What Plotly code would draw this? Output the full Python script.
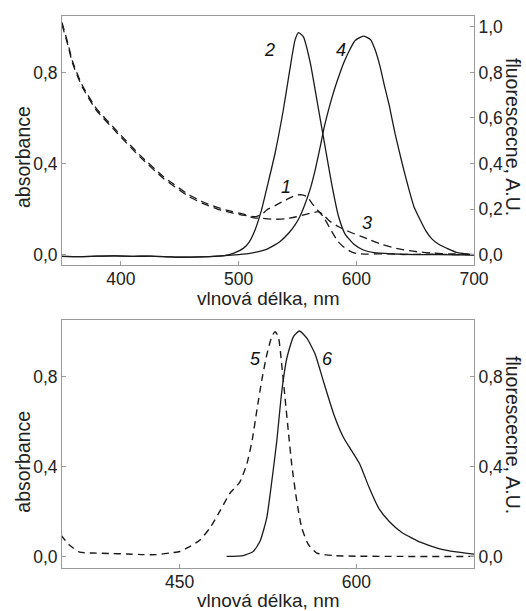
import plotly.graph_objects as go

# ---------------- data: top panel ----------------
# curve 1 (absorbance, dashed)
wl_1 = [350, 355, 359, 367, 379, 397, 416, 436, 458, 469, 482, 495, 505, 515, 520, 524, 531, 538,
        544, 550, 554, 558, 563, 568, 572, 578, 584, 589, 595, 600, 610, 625, 640, 660, 680, 700]
abs_1 = [1.01, 0.92, 0.84, 0.738, 0.635, 0.533, 0.43, 0.335, 0.254, 0.226, 0.200, 0.182, 0.172, 0.167,
         0.178, 0.196, 0.215, 0.234, 0.250, 0.262, 0.262, 0.255, 0.220, 0.190, 0.166, 0.112, 0.060,
         0.034, 0.014, 0.005, 0.002, 0.003, 0.000, 0.002, 0.000, 0.000]

# curve 3 (absorbance, dashed)
wl_3 = [350, 355, 359, 367, 379, 397, 416, 436, 458, 469, 482, 495, 505, 512, 520, 530, 540, 549,
        558, 563, 568, 572, 577, 585, 594, 603, 612, 622, 634, 645, 652, 665, 680, 700]
abs_3 = [1.02, 0.928, 0.848, 0.746, 0.643, 0.541, 0.438, 0.343, 0.262, 0.233, 0.207, 0.188, 0.176,
         0.162, 0.159, 0.155, 0.157, 0.166, 0.178, 0.184, 0.188, 0.175, 0.148, 0.122, 0.100, 0.082,
         0.064, 0.044, 0.027, 0.017, 0.012, 0.006, 0.003, 0.001]

# curve 2 (fluorescence, solid)
wl_2 = [350, 365, 380, 395, 410, 425, 440, 450, 460, 475, 488, 496, 504, 509, 514, 519.5, 525, 531,
        538, 543.5, 548, 551, 555, 561, 566.5, 572, 579, 585, 590.5, 598, 606, 615, 630, 650, 670, 700]
fl_2 = [-0.008, -0.009, -0.007, -0.006, -0.008, -0.007, -0.010, -0.012, -0.011, -0.009, -0.005,
        0.006, 0.027, 0.055, 0.108, 0.196, 0.313, 0.445, 0.635, 0.811, 0.943, 0.975, 0.957, 0.840,
        0.680, 0.518, 0.313, 0.166, 0.090, 0.045, 0.020, 0.008, 0.003, 0.000, 0.000, -0.002]

# curve 4 (fluorescence, solid)
wl_4 = [350, 365, 380, 395, 410, 425, 440, 450, 460, 475, 488, 500, 509.5, 517, 523.7, 529, 535,
        543.6, 548, 552, 556, 560.7, 565, 569.2, 573, 577.7, 582, 586.3, 590, 594.8, 599, 606, 612,
        616, 620, 624, 628, 633, 639, 644, 649, 654, 659, 664, 670, 678, 686, 693, 700]
fl_4 = [-0.008, -0.009, -0.007, -0.006, -0.008, -0.007, -0.010, -0.012, -0.011, -0.009, -0.005,
        0.000, 0.005, 0.013, 0.023, 0.037, 0.056, 0.100, 0.130, 0.166, 0.215, 0.285, 0.370, 0.470,
        0.565, 0.660, 0.735, 0.800, 0.850, 0.903, 0.940, 0.960, 0.945, 0.900, 0.830, 0.740, 0.655,
        0.530, 0.400, 0.300, 0.210, 0.155, 0.105, 0.070, 0.045, 0.025, 0.008, 0.003, 0.000]

# ---------------- data: bottom panel ----------------
# curve 5 (absorbance, dashed)
wl_5 = [349, 356, 365, 376, 390, 405, 419, 430, 441.5, 450, 458.5, 467, 475.6, 484, 492.6, 501,
        507, 511.5, 515.7, 519.6, 523.9, 528.2, 531, 533.8, 536.7, 539.5, 542.3, 545.2, 549.5,
        553.7, 559.4, 566.5, 580, 600, 640, 700]
abs_5 = [0.096, 0.052, 0.019, 0.015, 0.013, 0.011, 0.008, 0.008, 0.015, 0.022, 0.044, 0.072, 0.126,
         0.200, 0.280, 0.330, 0.410, 0.515, 0.655, 0.780, 0.895, 0.977, 0.999, 0.977, 0.851, 0.703,
         0.555, 0.407, 0.244, 0.126, 0.052, 0.015, 0.004, 0.001, 0.000, 0.000]

# curve 6 (fluorescence, solid)
wl_6 = [489.8, 504, 512.5, 518.2, 523.9, 528.2, 532.4, 536.7, 541, 546.6, 551.7, 558, 565, 572,
        581, 589, 596, 603, 611, 619, 628, 639, 655, 670, 685, 700]
fl_6 = [0.000, 0.004, 0.022, 0.067, 0.170, 0.333, 0.510, 0.733, 0.881, 0.977, 1.002, 0.970, 0.900,
        0.780, 0.630, 0.530, 0.470, 0.410, 0.305, 0.215, 0.155, 0.105, 0.062, 0.035, 0.020, 0.010]

# curve labels
lab_top = ["1", "2", "3", "4"]
lab_top_x = [540, 526, 609.5, 587]
lab_top_y = [0.298, 0.90, 0.138, 0.90]
lab_bot = ["5", "6"]
lab_bot_x = [514, 575.5]
lab_bot_y = [0.878, 0.878]

top_x_ticks = [400, 500, 600, 700]
top_yl_ticks = [0.0, 0.4, 0.8]
top_yr_ticks = [0.0, 0.2, 0.4, 0.6, 0.8, 1.0]
bot_x_ticks = [450, 600]
bot_yl_ticks = [0.0, 0.4, 0.8]
bot_yr_ticks = [0.0, 0.4, 0.8]

x_title = "vlnová délka, nm"
yl_title = "absorbance"
yr_title = "fluorescecne, A.U."

# ---------------- figure ----------------
FONT = "Liberation Sans, Arial, sans-serif"
LINE = "#1a1a1a"
FRAME = "#9a9a9a"

fig = go.Figure()

def add(x, y, xa, ya, dash, width):
    fig.add_trace(go.Scatter(x=x, y=y, xaxis=xa, yaxis=ya, mode="lines",
                             line=dict(color=LINE, width=width, dash=dash,
                                       shape="spline", smoothing=0.5),
                             showlegend=False, hoverinfo="skip"))

add(wl_1, abs_1, "x", "y", "8px,5px", 1.3)
add(wl_3, abs_3, "x", "y", "8px,5px", 1.3)
add(wl_2, fl_2, "x", "y2", "solid", 1.3)
add(wl_4, fl_4, "x", "y2", "solid", 1.3)
add(wl_5, abs_5, "x2", "y3", "7px,5px", 1.4)
add(wl_6, fl_6, "x2", "y4", "solid", 1.3)

top_dom = [(568 - 265) / 552, 1.0]
bot_dom = [0.0, (568 - 320) / 552]
top_rng = [-0.046, 1.048]
bot_rng = [-0.0515, 1.051]

tickfont = dict(family=FONT, size=17.5, color="#222222")
common = dict(showline=True, linecolor=FRAME, linewidth=1, ticks="inside", ticklen=4,
              tickcolor=FRAME, tickwidth=1, showgrid=False, zeroline=False,
              tickfont=tickfont)

fig.update_layout(
    width=526, height=611,
    margin=dict(l=62, r=52, t=16, b=43),
    paper_bgcolor="white", plot_bgcolor="white",
    separators=", ",
    font=dict(family=FONT, color="#222222"),
    xaxis=dict(domain=[0, 1], anchor="y", range=[350, 700], tickvals=top_x_ticks,
               mirror=True, ticklabelstandoff=-2, **common),
    yaxis=dict(domain=top_dom, anchor="x", range=top_rng, tickvals=top_yl_ticks,
               tickformat=".1f", **common),
    yaxis2=dict(domain=top_dom, anchor="x", overlaying="y", side="right", range=top_rng,
                tickvals=top_yr_ticks, tickformat=".1f", **common),
    xaxis2=dict(domain=[0, 1], anchor="y3", range=[350, 700], tickvals=bot_x_ticks,
                mirror=True, ticklabelstandoff=-2, **common),
    yaxis3=dict(domain=bot_dom, anchor="x2", range=bot_rng, tickvals=bot_yl_ticks,
                tickformat=".1f", **common),
    yaxis4=dict(domain=bot_dom, anchor="x2", overlaying="y3", side="right", range=bot_rng,
                tickvals=bot_yr_ticks, tickformat=".1f", **common),
)

def px_x(p):
    return (p - 62) / 412

def px_y(p):
    return (568 - p) / 552

xt_font = dict(family=FONT, size=19, color="#222222")
yt_font = dict(family=FONT, size=19.5, color="#222222")
annots = [
    dict(text=x_title, x=0.5, y=px_y(298.5), textangle=0, font=xt_font),
    dict(text=x_title, x=0.5, y=px_y(600), textangle=0, font=xt_font),
    dict(text=yl_title, x=px_x(23), y=px_y(157), textangle=-90, font=yt_font),
    dict(text=yl_title, x=px_x(23), y=px_y(461.7), textangle=-90, font=yt_font),
    dict(text=yr_title, x=px_x(513), y=px_y(137), textangle=90, font=yt_font),
    dict(text=yr_title, x=px_x(513), y=px_y(435), textangle=90, font=yt_font),
]
for a in annots:
    fig.add_annotation(xref="paper", yref="paper", showarrow=False, xanchor="center",
                       yanchor="middle", **a)

lab_font = dict(family=FONT, size=18, color="#111111")
for t, xv, yv in zip(lab_top, lab_top_x, lab_top_y):
    fig.add_annotation(xref="x", yref="y", x=xv, y=yv, text="<i>" + t + "</i>",
                       showarrow=False, xanchor="center", yanchor="middle", font=lab_font)
for t, xv, yv in zip(lab_bot, lab_bot_x, lab_bot_y):
    fig.add_annotation(xref="x2", yref="y3", x=xv, y=yv, text="<i>" + t + "</i>",
                       showarrow=False, xanchor="center", yanchor="middle", font=lab_font)

fig.write_html("out.html",
               config={"displayModeBar": False, "staticPlot": True},
               post_script="document.body.style.margin='0px';document.body.style.padding='0px';")
